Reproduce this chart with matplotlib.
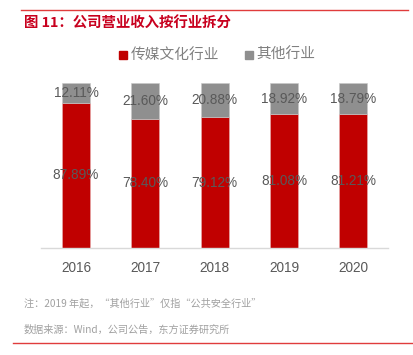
import matplotlib
matplotlib.use("Agg")
import matplotlib.pyplot as plt
from matplotlib.patches import Rectangle
from matplotlib.lines import Line2D

plt.rcParams['font.family'] = ['Noto Sans CJK SC', 'DejaVu Sans']

years = ["2016", "2017", "2018", "2019", "2020"]
media = [87.89, 78.40, 79.12, 81.08, 81.21]
other = [12.11, 21.60, 20.88, 18.92, 18.79]
series_names = ["传媒文化行业", "其他行业"]
title = "图 11：公司营业收入按行业拆分"
note = "注：2019 年起，“其他行业”仅指“公共安全行业”"
source = "数据来源：Wind，公司公告，东方证券研究所"

RED = "#C00000"
GRAY = "#8F8F8F"
LABEL = "#595959"

fig = plt.figure(figsize=(4.14, 3.55), dpi=100)
ax = fig.add_axes([0.0998, 0.3014, 0.8374, 0.4648])

x = range(len(years))
ax.bar(x, media, width=0.4, color=RED, edgecolor="#e8b0b0", linewidth=0.4)
ax.bar(x, other, width=0.4, bottom=media, color=GRAY, edgecolor="#c8c8c8", linewidth=0.4)

num_font = ['Liberation Sans', 'DejaVu Sans']
for i in x:
    ax.text(i, media[i] / 2, f"{media[i]:.2f}%", ha="center", va="center",
            fontsize=9.8, color=LABEL, family=num_font)
    ax.text(i, media[i] + other[i] / 2, f"{other[i]:.2f}%", ha="center", va="center",
            fontsize=9.8, color=LABEL, family=num_font)

ax.set_xlim(-0.5, len(years) - 0.5)
ax.set_ylim(0, 100)
ax.set_xticks(list(x))
ax.set_xticklabels(years, fontsize=9.8, color=LABEL, family=num_font)
ax.tick_params(axis="x", length=0, pad=9)
ax.set_yticks([])
for s in ["top", "right", "left"]:
    ax.spines[s].set_visible(False)
ax.spines["bottom"].set_color("#d9d9d9")
ax.spines["bottom"].set_linewidth(1.0)

# top line and title
fig.add_artist(Line2D([21 / 414, 408 / 414], [1 - 10 / 355, 1 - 10 / 355],
                      color="#E03C3C", linewidth=1.0))
fig.text(24 / 414, 1 - 24 / 355, title, color="#C8001E", fontsize=10.4, fontweight="bold",
         ha="left", va="center")

# legend
ly = 1 - 55 / 355
fig.add_artist(Rectangle((119 / 414, ly - 4 / 355), 8 / 414, 8 / 355,
                         color=RED, transform=fig.transFigure))
fig.text(131 / 414, ly, series_names[0], color="#808080", fontsize=10.6,
         ha="left", va="center")
fig.add_artist(Rectangle((245 / 414, ly - 4 / 355), 8 / 414, 8 / 355,
                         color=GRAY, transform=fig.transFigure))
fig.text(256 / 414, ly, series_names[1], color="#808080", fontsize=10.6,
         ha="left", va="center")

# notes
fig.text(24 / 414, 1 - 303 / 355, note, color="#A0A0A0", fontsize=7.3,
         ha="left", va="center")
fig.text(24 / 414, 1 - 330 / 355, source, color="#A0A0A0", fontsize=7.3,
         ha="left", va="center")
fig.add_artist(Line2D([13 / 414, 1.0], [1 - 343 / 355, 1 - 343 / 355],
                      color="#E03C3C", linewidth=1.0))

fig.savefig("out.png", dpi=100)
